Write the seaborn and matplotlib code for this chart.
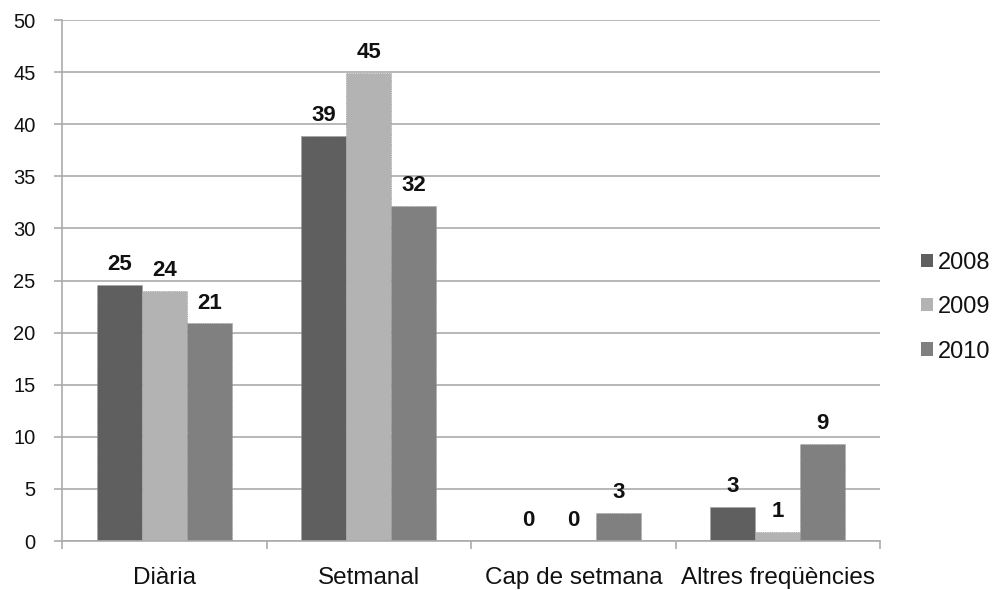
import pandas as pd
import numpy as np
import matplotlib.pyplot as plt
import seaborn as sns

# Data
categories = ['Diària', 'Setmanal', 'Cap de setmana', 'Altres freqüències']
years = ['2008', '2009', '2010']
values_2008 = [24.6, 38.9, 0.0, 3.3]
values_2009 = [24.0, 44.9, 0.0, 0.9]
values_2010 = [20.9, 32.2, 2.7, 9.3]
labels_2008 = ['25', '39', '0', '3']
labels_2009 = ['24', '45', '0', '1']
labels_2010 = ['21', '32', '3', '9']
colors = ['#5f5f5f', '#b3b3b3', '#808080']

df = pd.DataFrame({
    'Categoria': categories * 3,
    'Any': [y for y in years for _ in categories],
    'Valor': values_2008 + values_2009 + values_2010,
})

sns.set_style('white')
plt.rcParams['font.family'] = ['Liberation Sans', 'DejaVu Sans']

fig = plt.figure(figsize=(9.93, 5.90), dpi=100)
ax = fig.add_axes([0.0624, 0.083, 0.824, 0.883])

sns.barplot(data=df, x='Categoria', y='Valor', hue='Any', palette=colors,
            width=0.66, gap=0, ax=ax, edgecolor='#9a9a9a', linewidth=0.6,
            linestyle=':', saturation=1, errorbar=None)

for cont, labs in zip(ax.containers, [labels_2008, labels_2009, labels_2010]):
    ax.bar_label(cont, labels=labs, padding=7, fontsize=16, fontweight='bold',
                 color='#111111')

ax.set_ylim(0, 50)
ax.set_xlim(-0.5, 3.5)
ax.set_yticks(np.arange(0, 51, 5))
ax.yaxis.grid(True, color='#ababab', linewidth=1.2)
ax.set_axisbelow(True)
ax.set_xlabel('')
ax.set_ylabel('')

for side in ['top', 'right']:
    ax.spines[side].set_visible(False)
for side in ['left', 'bottom']:
    ax.spines[side].set_color('#ababab')
    ax.spines[side].set_linewidth(1.2)

ax.tick_params(axis='y', direction='out', length=6, width=1.2, color='#ababab',
               labelsize=14.5, labelcolor='#111111', pad=13, left=True)
ax.tick_params(axis='x', which='major', length=0, labelsize=17.5,
               labelcolor='#111111', pad=19)
ax.set_xticks([-0.5, 0.5, 1.5, 2.5, 3.5], minor=True)
ax.tick_params(axis='x', which='minor', direction='out', length=6, width=1.2,
               color='#ababab', bottom=True)

leg = ax.legend(loc='center left', bbox_to_anchor=(1.024, 0.449), frameon=False,
                fontsize=17, handlelength=0.5, handleheight=0.5,
                handletextpad=0.2, labelspacing=0.95)
for t in leg.get_texts():
    t.set_color('#111111')
for h in leg.legend_handles:
    h.set_edgecolor('none')

fig.savefig('out.png', dpi=100)
